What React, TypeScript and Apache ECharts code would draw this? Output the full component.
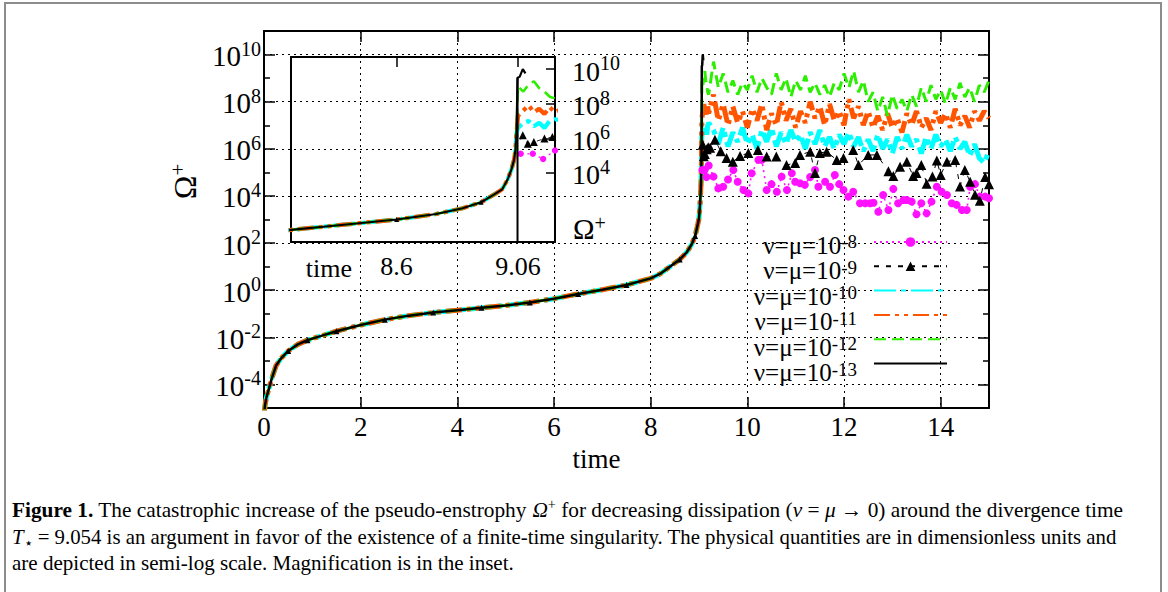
import React, { useEffect, useRef } from 'react';
import * as echarts from 'echarts';

// ---------------- data: log10(Ω+) ----------------
// common rising branch (all dissipations coincide before the blow-up)
const tEarly = [0, 0.02, 0.05, 0.1, 0.16, 0.25, 0.35, 0.5, 0.7, 0.9, 1.2, 1.5, 2.0, 2.5, 3.0, 3.5, 4.0, 4.5, 5.0, 5.5, 6.0, 6.5, 7.0, 7.5, 8.0, 8.2, 8.4, 8.6, 8.75, 8.85, 8.92, 8.97, 9.0, 9.02, 9.035, 9.045, 9.05, 9.054];
const logEarly = [-5.3, -4.9, -4.55, -4.2, -3.75, -3.2, -2.9, -2.58, -2.3, -2.12, -1.93, -1.74, -1.48, -1.25, -1.08, -0.95, -0.85, -0.75, -0.65, -0.52, -0.36, -0.16, 0.02, 0.22, 0.5, 0.7, 1.0, 1.3, 1.62, 1.95, 2.3, 2.75, 3.05, 3.6, 4.2, 4.75, 5.3, 6.3];

// after the blow-up
const tLate = [9.06, 9.08, 9.1, 9.12, 9.14, 9.16, 9.18, 9.2, 9.3, 9.4, 9.5, 9.6, 9.7, 9.8, 9.9, 10.0, 10.1, 10.2, 10.3, 10.4, 10.5, 10.6, 10.7, 10.8, 10.9, 11.0, 11.1, 11.2, 11.3, 11.4, 11.5, 11.6, 11.7, 11.8, 11.9, 12.0, 12.1, 12.2, 12.3, 12.4, 12.5, 12.6, 12.7, 12.8, 12.9, 13.0, 13.1, 13.2, 13.3, 13.4, 13.5, 13.6, 13.7, 13.8, 13.9, 14.0, 14.1, 14.2, 14.3, 14.4, 14.5, 14.6, 14.7, 14.8, 14.9, 15.0];
const greenLate = [9.0, 8.7, 9.1, 9.3, 8.9, 8.7, 8.4, 8.3, 9.7, 8.6, 9.2, 8.4, 8.9, 8.3, 8.8, 8.5, 9.1, 8.4, 9.0, 8.6, 8.3, 9.2, 8.5, 9.0, 8.2, 8.9, 8.5, 9.1, 8.4, 8.8, 8.3, 8.7, 8.2, 8.8, 8.5, 9.2, 8.6, 9.3, 8.4, 8.9, 8.0, 8.4, 7.6, 8.2, 7.4, 8.3, 7.7, 8.1, 7.6, 8.3, 7.8, 8.6, 8.0, 8.7, 8.1, 8.5, 7.9, 8.6, 8.1, 8.8, 8.2, 8.6, 8.0, 8.7, 8.4, 8.9];
const orangeLate = [7.3, 7.6, 7.9, 7.5, 7.7, 7.4, 7.8, 7.5, 8.3, 7.2, 7.9, 7.0, 7.8, 7.1, 7.6, 6.9, 7.7, 7.2, 7.9, 6.8, 7.5, 7.0, 8.0, 7.2, 7.7, 6.9, 7.6, 7.1, 8.0, 7.3, 7.8, 7.0, 7.9, 7.2, 7.6, 7.0, 8.1, 7.3, 7.8, 7.0, 7.6, 6.9, 7.4, 6.8, 7.5, 6.9, 7.3, 6.7, 7.5, 7.0, 7.6, 6.9, 7.3, 6.8, 7.6, 7.1, 7.5, 6.9, 7.7, 7.0, 7.4, 6.9, 7.6, 7.2, 7.6, 7.3];
const cyanLate = [6.6, 6.9, 7.0, 6.7, 6.9, 6.6, 7.0, 7.1, 6.8, 6.2, 6.9, 6.1, 6.7, 6.3, 6.9, 6.2, 6.6, 6.0, 6.8, 6.3, 6.9, 6.1, 6.7, 6.2, 6.8, 6.3, 6.6, 6.0, 6.7, 6.2, 6.8, 6.1, 6.5, 6.0, 6.6, 6.2, 6.7, 6.1, 6.5, 5.9, 6.4, 5.9, 6.6, 6.0, 6.4, 5.8, 6.5, 6.0, 6.6, 6.1, 6.4, 5.8, 6.5, 6.0, 6.6, 6.1, 6.4, 5.9, 6.5, 6.0, 6.3, 5.7, 6.2, 5.6, 5.4, 5.9];
const tTri = [9.078, 9.097, 9.12, 9.16, 9.19, 9.23, 9.33, 9.45, 9.57, 9.7, 9.85, 10.02, 10.22, 10.4, 10.6, 10.81, 10.99, 11.09, 11.3, 11.4, 11.5, 11.64, 11.85, 11.99, 12.19, 12.3, 12.5, 12.68, 12.92, 13.02, 13.16, 13.3, 13.43, 13.5, 13.6, 13.71, 13.83, 13.92, 14.0, 14.13, 14.3, 14.4, 14.5, 14.61, 14.71, 14.81, 14.92, 15.0];
const triLate = [6.17, 5.68, 5.78, 5.98, 6.07, 6.04, 6.38, 5.9, 5.61, 5.45, 5.7, 5.82, 5.95, 5.67, 5.67, 5.31, 5.4, 5.74, 5.88, 4.97, 5.82, 5.88, 5.53, 5.61, 5.95, 5.31, 5.74, 5.74, 5.05, 4.85, 5.24, 5.45, 4.85, 4.97, 5.31, 4.52, 4.82, 5.5, 4.89, 5.45, 5.53, 4.4, 5.1, 4.6, 4.05, 3.8, 4.8, 4.5];
const tDot = [9.07, 9.116, 9.155, 9.2, 9.3, 9.4, 9.5, 9.6, 9.71, 9.8, 9.92, 10.02, 10.09, 10.23, 10.3, 10.4, 10.5, 10.61, 10.71, 10.82, 10.92, 10.99, 11.09, 11.19, 11.3, 11.4, 11.47, 11.61, 11.71, 11.81, 11.9, 11.99, 12.09, 12.19, 12.33, 12.44, 12.54, 12.61, 12.71, 12.81, 12.92, 13.02, 13.12, 13.23, 13.3, 13.4, 13.5, 13.6, 13.71, 13.81, 13.92, 14.02, 14.13, 14.23, 14.33, 14.44, 14.54, 14.61, 14.71, 14.81, 14.92, 15.0];
const dotLate = [5.1, 5.1, 4.8, 5.29, 4.82, 4.32, 4.39, 4.7, 5.1, 4.6, 4.25, 4.11, 4.96, 5.53, 5.53, 4.25, 4.5, 4.18, 4.82, 4.25, 4.96, 4.6, 4.54, 4.47, 4.8, 5.1, 4.39, 4.6, 4.39, 4.89, 4.5, 4.25, 3.97, 4.18, 3.69, 3.69, 3.69, 3.71, 3.33, 4.04, 3.4, 4.3, 3.69, 3.83, 3.83, 3.76, 3.22, 3.69, 3.26, 3.76, 4.39, 4.18, 4.04, 3.69, 3.62, 3.4, 3.4, 4.39, 4.5, 3.97, 3.97, 3.9];
const tBlack = [9.058, 9.066, 9.078, 9.088];
const blackLate = [9.5, 9.55, 10.0, 9.75];
// vertical drop of the ν=μ=1e-13 run seen in the inset
const tBlackDrop = [9.058, 9.058];
const blackDrop = [9.5, -1];
// early positions where the ν=μ=1e-9 triangles show
const triMarkTimes = [0.5, 0.9, 1.5, 2.5, 3.5, 4.5, 5.5, 6.5, 7.5, 8.6, 8.92];

// ticks
const xTicks = [0, 2, 4, 6, 8, 10, 12, 14];
const yMajor = [-4, -2, 0, 2, 4, 6, 8, 10];
const yMinor = [-3, -1, 1, 3, 5, 7, 9];
const insetXTicks = [8.6, 9.06];
const insetYTicks = [4, 6, 8, 10];
const exps = ['-8', '-9', '-10', '-11', '-12', '-13'];

// ---------------- styling ----------------
const FONT = '"Liberation Serif", "Times New Roman", serif';
const styles = [
  { color: '#ff10ff', width: 1.6, type: [2, 4], symbol: 'circle', size: 8 },
  { color: '#000000', width: 1, type: [5, 7], symbol: 'triangle', size: 10 },
  { color: '#00ffff', width: 5, type: [22, 5, 5, 5], symbol: 'none', size: 0 },
  { color: '#ff5500', width: 5, type: [16, 5, 4, 5, 4, 5], symbol: 'none', size: 0 },
  { color: '#2cee00', width: 3, type: [12, 6], symbol: 'none', size: 0 },
  { color: '#000000', width: 2.5, type: 'solid', symbol: 'none', size: 0 },
];
const names = exps.map((e) => `ν=μ=10^${e}`);

const pairs = (ts: number[], vs: number[]) => ts.map((t, i) => [t, vs[i]]);
const lateData = [
  pairs(tDot, dotLate),
  pairs(tTri, triLate),
  pairs(tLate, cyanLate),
  pairs(tLate, orangeLate),
  pairs(tLate, greenLate),
  pairs(tBlack, blackLate),
];

function buildData(i: number, inset: boolean) {
  const late = lateData[i];
  const first = late[0][1];
  const early = pairs(tEarly, logEarly).filter((p) => p[1] <= first);
  const earlyItems = early.map((p) => {
    if (i === 1 && triMarkTimes.indexOf(p[0]) >= 0) {
      return { value: p, symbol: 'triangle', symbolSize: inset ? 5 : 6 };
    }
    return { value: p, symbol: 'none' };
  });
  return [...earlyItems, ...late];
}

const supRich = (b: number, s: number, lh: number, slh: number) => ({
  b: { fontFamily: FONT, fontSize: b, color: '#000', fill: '#000', lineHeight: lh, verticalAlign: 'bottom' },
  s: { fontFamily: FONT, fontSize: s, color: '#000', fill: '#000', lineHeight: slh, verticalAlign: 'top' },
});

function measure(font: string, s: string) {
  const c = document.createElement('canvas').getContext('2d');
  if (!c) return s.length * 8;
  c.font = font;
  return c.measureText(s).width;
}

function buildOption() {
  const tickLine = { color: '#000', width: 1.5 };
  const frame = { show: true, onZero: false, lineStyle: { color: '#000', width: 2 } };
  const noLine = { show: false, onZero: false };

  const mainSeries: any[] = styles.map((s, i) => ({
    type: 'line',
    name: names[i],
    xAxisIndex: 0,
    yAxisIndex: 0,
    data: buildData(i, false),
    symbol: s.symbol,
    symbolSize: s.size,
    showSymbol: true,
    lineStyle: { color: s.color, width: s.width, type: s.type },
    itemStyle: { color: s.color },
    emphasis: { disabled: true },
    silent: true,
    z: 2,
  }));
  mainSeries[0].markLine = {
    silent: true,
    z: 1,
    symbol: ['none', 'none'],
    label: { show: false },
    lineStyle: { type: [2, 4], color: '#000', width: 1 },
    data: yMajor.map((v) => ({ yAxis: v })),
  };
  const insetSeries: any[] = styles.map((s, i) => ({
    type: 'line',
    name: names[i],
    xAxisIndex: 2,
    yAxisIndex: 4,
    data: buildData(i, true),
    symbol: s.symbol,
    symbolSize: s.size * 0.8,
    showSymbol: true,
    lineStyle: { color: s.color, width: s.width * 0.85, type: s.type },
    itemStyle: { color: s.color },
    emphasis: { disabled: true },
    silent: true,
    z: 2,
  }));
  insetSeries.push({
    type: 'line',
    xAxisIndex: 2,
    yAxisIndex: 4,
    data: pairs(tBlackDrop, blackDrop),
    symbol: 'none',
    lineStyle: { color: '#000', width: 2 },
    silent: true,
    z: 3,
  });

  // caption, one text per line, each condensed to the width it has in the figure
  const capSize = 21;
  const capLines: [string, string][][] = [
    [
      ['b', 'Figure 1.'], ['r', ' The catastrophic increase of the pseudo-enstrophy '], ['i', 'Ω'], ['sup', '+'],
      ['r', ' for decreasing dissipation ('], ['i', 'ν'], ['r', ' = '], ['i', 'μ'], ['r', ' → 0) around the divergence time'],
    ],
    [
      ['i', 'T'], ['sub', '⋆'], ['r', ' = 9.054 is an argument in favor of the existence of a finite-time singularity. The physical quantities are in dimensionless units and'],
    ],
    [['r', 'are depicted in semi-log scale. Magnification is in the inset.']],
  ];
  const capWidths = [1111, 1105, 502];
  const fontOf: Record<string, string> = {
    b: `bold ${capSize}px ${FONT}`,
    r: `${capSize}px ${FONT}`,
    i: `italic ${capSize}px ${FONT}`,
    sup: `14px ${FONT}`,
    sub: `15px ${FONT}`,
  };
  const capRich = {
    r: { fontFamily: FONT, fontSize: capSize, lineHeight: 26.5, fill: '#000' },
    b: { fontFamily: FONT, fontSize: capSize, fontWeight: 'bold', lineHeight: 26.5, fill: '#000' },
    i: { fontFamily: FONT, fontSize: capSize, fontStyle: 'italic', lineHeight: 26.5, fill: '#000' },
    sup: { fontFamily: FONT, fontSize: 14, lineHeight: 12, verticalAlign: 'top', fill: '#000' },
    sub: { fontFamily: FONT, fontSize: 15, lineHeight: 10, verticalAlign: 'bottom', fill: '#000' },
  };
  const captionEls = capLines.map((l, k) => {
    const w = l.reduce((a, [key, s]) => a + measure(fontOf[key], s), 0);
    return {
      type: 'text', silent: true, x: 12, y: 497 + k * 26.5, scaleX: w > 0 ? capWidths[k] / w : 1,
      style: { text: l.map(([key, s]) => `{${key}|${s}}`).join(''), rich: capRich, fill: '#000', fontFamily: FONT, fontSize: capSize },
    };
  });

  // legend labels (right-aligned, with superscript exponents)
  const legendLabel = {
    type: 'text', silent: true, x: 857, y: 232,
    style: {
      text: exps.map((e) => `{b|ν=μ=10}{s|${e}}`).join('\n'),
      align: 'right',
      fill: '#000',
      fontFamily: FONT,
      fontSize: 25,
      rich: {
        b: { fontFamily: FONT, fontSize: 25, lineHeight: 25.5, verticalAlign: 'bottom', fill: '#000' },
        s: { fontFamily: FONT, fontSize: 19, lineHeight: 10, verticalAlign: 'top', fill: '#000' },
      },
    },
  };

  return {
    animation: false,
    backgroundColor: '#fff',
    textStyle: { fontFamily: FONT, color: '#000' },
    grid: [
      { left: 264, top: 31, width: 725, height: 377, containLabel: false, outerBoundsMode: 'none' },
      { left: 291, top: 57, width: 264, height: 185, containLabel: false, outerBoundsMode: 'none' },
    ],
    xAxis: [
      {
        type: 'value', gridIndex: 0, position: 'bottom', min: 0, max: 15, interval: 2,
        axisLine: frame,
        axisTick: { show: true, inside: true, length: 11, customValues: xTicks, lineStyle: tickLine },
        axisLabel: { show: true, customValues: xTicks, margin: 5, fontSize: 27, fontFamily: FONT, color: '#000' },
        splitLine: { show: true, lineStyle: { type: [2, 4], color: '#000', width: 1 } },
        name: 'time', nameLocation: 'middle', nameGap: 37,
        nameTextStyle: { fontSize: 27, fontFamily: FONT, color: '#000', padding: [0, 60, 0, 0] },
      },
      {
        type: 'value', gridIndex: 0, position: 'top', min: 0, max: 15, interval: 2,
        axisLine: frame,
        axisTick: { show: true, inside: true, length: 11, customValues: xTicks, lineStyle: tickLine },
        axisLabel: { show: false },
        splitLine: { show: false },
      },
      {
        type: 'value', gridIndex: 1, position: 'bottom', min: 8.2, max: 9.2,
        axisLine: frame,
        axisTick: { show: false },
        axisLabel: { show: true, customValues: insetXTicks, margin: 11, fontSize: 26, fontFamily: FONT, color: '#000' },
        splitLine: { show: false },
        name: 'time', nameLocation: 'start', nameGap: -61,
        nameTextStyle: { fontSize: 26, fontFamily: FONT, color: '#000', align: 'right', verticalAlign: 'top', lineHeight: 52 },
      },
      {
        type: 'value', gridIndex: 1, position: 'top', min: 8.2, max: 9.2,
        axisLine: frame,
        axisTick: { show: true, inside: true, length: 10, customValues: insetXTicks, lineStyle: tickLine },
        axisLabel: { show: false },
        splitLine: { show: false },
      },
    ],
    yAxis: [
      {
        type: 'value', gridIndex: 0, position: 'left', min: -5, max: 11, interval: 1,
        axisLine: frame,
        axisTick: { show: true, inside: true, length: 11, customValues: yMajor, lineStyle: tickLine },
        axisLabel: {
          show: true, customValues: yMajor, margin: 3,
          formatter: (v: number) => `{b|10}{s|${v}}`,
          rich: supRich(29, 20, 32, 18),
        },
        splitLine: { show: false },
        name: '{o|Ω}{p|+}', nameLocation: 'middle', nameRotate: 90, nameGap: 62,
        nameTextStyle: {
          padding: [0, 0, 0, 76],
          rich: {
            o: { fontFamily: FONT, fontSize: 32, color: '#000', lineHeight: 34, verticalAlign: 'bottom' },
            p: { fontFamily: FONT, fontSize: 21, color: '#000', lineHeight: 18, verticalAlign: 'top' },
          },
        },
      },
      {
        type: 'value', gridIndex: 0, position: 'left', min: -5, max: 11, interval: 1,
        axisLine: noLine,
        axisTick: { show: true, inside: true, length: 6, customValues: yMinor, lineStyle: tickLine },
        axisLabel: { show: false },
        splitLine: { show: false },
      },
      {
        type: 'value', gridIndex: 0, position: 'right', min: -5, max: 11, interval: 1,
        axisLine: frame,
        axisTick: { show: true, inside: true, length: 11, customValues: yMajor, lineStyle: tickLine },
        axisLabel: { show: false },
        splitLine: { show: false },
      },
      {
        type: 'value', gridIndex: 0, position: 'right', min: -5, max: 11, interval: 1,
        axisLine: noLine,
        axisTick: { show: true, inside: true, length: 6, customValues: yMinor, lineStyle: tickLine },
        axisLabel: { show: false },
        splitLine: { show: false },
      },
      {
        type: 'value', gridIndex: 1, position: 'right', min: 0, max: 10.7, interval: 1,
        axisLine: frame,
        axisTick: { show: true, inside: true, length: 9, customValues: insetYTicks, lineStyle: tickLine },
        axisLabel: {
          show: true, customValues: insetYTicks, margin: 17,
          formatter: (v: number) => `{b|10}{s|${v}}`,
          rich: supRich(28, 20, 32, 18),
        },
        splitLine: { show: false },
        name: '{o|Ω}{p|+}', nameLocation: 'start', nameGap: -14,
        nameTextStyle: {
          align: 'left', verticalAlign: 'middle', padding: [0, 0, 0, 18],
          rich: {
            o: { fontFamily: FONT, fontSize: 29, color: '#000', lineHeight: 30, verticalAlign: 'bottom' },
            p: { fontFamily: FONT, fontSize: 20, color: '#000', lineHeight: 14, verticalAlign: 'top' },
          },
        },
      },
      {
        type: 'value', gridIndex: 1, position: 'left', min: 0, max: 10.7, interval: 1,
        axisLine: frame,
        axisTick: { show: false },
        axisLabel: { show: false },
        splitLine: { show: false },
      },
    ],
    legend: {
      orient: 'vertical',
      align: 'right',
      right: 220,
      top: 236,
      padding: 0,
      itemWidth: 73,
      itemHeight: 12,
      itemGap: 13.5,
      selectedMode: false,
      formatter: () => '',
      textStyle: { fontFamily: FONT, fontSize: 1, color: '#000' },
      data: names.map((n, i) => (styles[i].symbol === 'none' ? { name: n, itemStyle: { opacity: 0 } } : { name: n })),
    },
    graphic: [
      {
        type: 'rect', silent: true, z: -10,
        shape: { x: 5, y: 3, width: 1156, height: 700 },
        style: { fill: 'none', stroke: '#8c8c8c', lineWidth: 2 },
      },
      legendLabel,
      ...captionEls,
    ],
    series: [...mainSeries, ...insetSeries],
  };
}

export default function App() {
  const ref = useRef<HTMLDivElement>(null);
  useEffect(() => {
    document.body.style.margin = '0';
    if (!ref.current) return;
    const chart = echarts.init(ref.current, null, { renderer: 'svg' });
    chart.setOption(buildOption() as any);
    return () => chart.dispose();
  }, []);
  return <div ref={ref} style={{ width: 1168, height: 592 }} />;
}
